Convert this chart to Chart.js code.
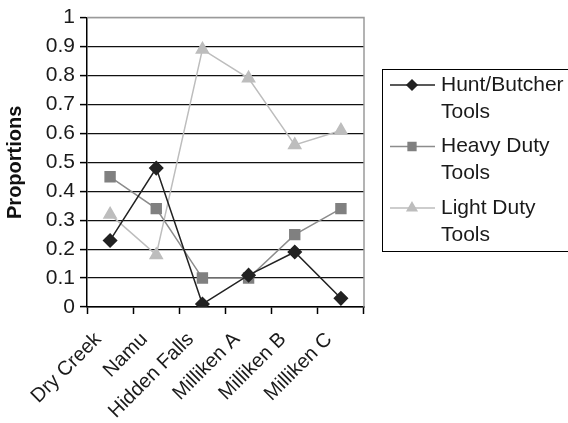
<!DOCTYPE html>
<html>
<head>
<meta charset="utf-8">
<script src="https://cdn.jsdelivr.net/npm/chart.js@4/dist/chart.umd.min.js"></script>
<style>
    html, body { margin: 0; padding: 0; background: #fff; }
    #wrap { width: 568px; height: 423px; position: relative; }
</style>
</head>
<body>
<div id="wrap"><canvas id="toolChart"></canvas></div>
<script>
// Sites (categories)
const sites = ['Dry Creek', 'Namu', 'Hidden Falls', 'Milliken A', 'Milliken B', 'Milliken C'];

// Proportions per tool class
const huntButcher = [0.23, 0.48, 0.01, 0.11, 0.19, 0.03];
const heavyDuty = [0.45, 0.34, 0.10, 0.10, 0.25, 0.34];
const lightDuty = [0.32, 0.18, 0.89, 0.79, 0.56, 0.61];

// Legend labels (wrapped as in the original)
const seriesNames = [
    ['Hunt/Butcher', 'Tools'],
    ['Heavy Duty', 'Tools'],
    ['Light Duty', 'Tools']
];

const FONT = '"Liberation Sans", Arial, sans-serif';

// Gray frame on the top and right of the plot area
const frameBorder = {
    id: 'frameBorder',
    beforeDatasetsDraw(chart) {
        const { ctx, chartArea } = chart;
        ctx.save();
        ctx.strokeStyle = '#9a9a9a';
        ctx.lineWidth = 1.5;
        ctx.beginPath();
        ctx.moveTo(chartArea.left, chartArea.top);
        ctx.lineTo(chartArea.right, chartArea.top);
        ctx.lineTo(chartArea.right, chartArea.bottom);
        ctx.stroke();
        ctx.restore();
    }
};

// Boxed legend on the right with two-line labels
const boxLegend = {
    id: 'boxLegend',
    afterDraw(chart) {
        const { ctx } = chart;
        const left = 382, top = 69, bottom = 251;
        ctx.save();
        ctx.strokeStyle = '#000';
        ctx.lineWidth = 1;
        ctx.strokeRect(left + 0.5, top + 0.5, 200, bottom - top);
        ctx.font = '21px ' + FONT;
        ctx.textBaseline = 'middle';
        chart.data.datasets.forEach((ds, i) => {
            const y = 85 + i * 61.5;
            ctx.strokeStyle = ds.borderColor;
            ctx.lineWidth = ds.borderWidth;
            ctx.beginPath();
            ctx.moveTo(390, y);
            ctx.lineTo(435, y);
            ctx.stroke();
            ctx.fillStyle = ds.pointBackgroundColor;
            ctx.strokeStyle = ds.pointBorderColor;
            Chart.helpers.drawPoint(ctx, {
                pointStyle: ds.pointStyle,
                radius: ds.pointRadius - 1.5,
                borderWidth: 1
            }, 412, y);
            ctx.fillStyle = '#1a1a1a';
            seriesNames[i].forEach((line, j) => {
                ctx.fillText(line, 441, y + j * 27);
            });
        });
        ctx.restore();
    }
};

const chart = new Chart(document.getElementById('toolChart'), {
    type: 'line',
    data: {
        labels: sites,
        datasets: [{
            label: 'Hunt/Butcher Tools',
            data: huntButcher,
            borderColor: '#222222',
            borderWidth: 1.5,
            pointStyle: 'rectRot',
            pointRadius: 6.5,
            pointBackgroundColor: '#222222',
            pointBorderColor: '#222222'
        }, {
            label: 'Heavy Duty Tools',
            data: heavyDuty,
            borderColor: '#8c8c8c',
            borderWidth: 1.5,
            pointStyle: 'rect',
            pointRadius: 7,
            pointBackgroundColor: '#808080',
            pointBorderColor: '#808080'
        }, {
            label: 'Light Duty Tools',
            data: lightDuty,
            borderColor: '#bdbdbd',
            borderWidth: 1.5,
            pointStyle: 'triangle',
            pointRadius: 7,
            pointBackgroundColor: '#bdbdbd',
            pointBorderColor: '#bdbdbd'
        }]
    },
    options: {
        responsive: true,
        maintainAspectRatio: false,
        animation: false,
        layout: {
            padding: { left: 0, right: 204, top: 15, bottom: 0 }
        },
        plugins: {
            legend: { display: false },
            tooltip: { enabled: false }
        },
        scales: {
            x: {
                type: 'category',
                offset: true,
                grid: {
                    offset: true,
                    drawOnChartArea: false,
                    drawTicks: true,
                    tickLength: 7,
                    tickColor: '#000',
                    tickWidth: 1.5
                },
                border: { color: '#000', width: 1.5 },
                ticks: {
                    color: '#1a1a1a',
                    font: { family: FONT, size: 20 },
                    minRotation: 45,
                    maxRotation: 45,
                    padding: 2,
                    // trailing spaces push the rotated text down-left like the original
                    callback: function(value) {
                        return this.getLabelForValue(value) + '   ';
                    }
                },
                afterFit(scale) { scale.height = 116; }
            },
            y: {
                min: 0,
                max: 1,
                ticks: {
                    stepSize: 0.1,
                    color: '#1a1a1a',
                    font: { family: FONT, size: 21 },
                    padding: 5,
                    callback: v => +v.toFixed(1)
                },
                grid: {
                    color: c => (c.tick && c.tick.value === 1) ? '#9a9a9a' : '#111',
                    lineWidth: 1.2,
                    tickLength: 7,
                    tickColor: '#000',
                    tickWidth: 1.5
                },
                border: { color: '#000', width: 1.5 },
                title: {
                    display: true,
                    text: 'Proportions',
                    color: '#111',
                    font: { family: FONT, size: 20, weight: 'bold' },
                    padding: { top: 3, bottom: 0 }
                },
                afterFit(scale) { scale.width = 87; }
            }
        }
    },
    plugins: [frameBorder, boxLegend]
});
</script>
</body>
</html>
